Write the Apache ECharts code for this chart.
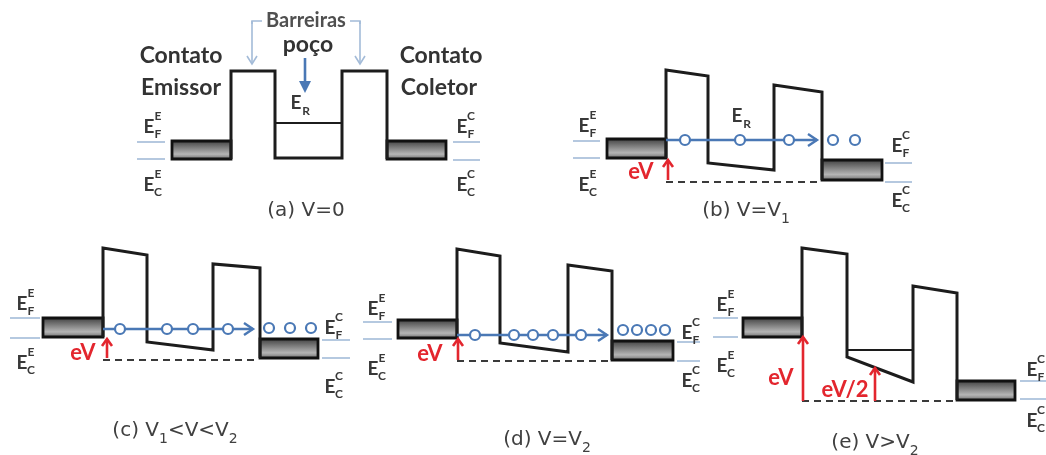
<!DOCTYPE html>
<html>
<head>
<meta charset="utf-8">
<title>Diodo de tunelamento ressonante – diagramas de banda</title>
<script src="https://cdn.jsdelivr.net/npm/echarts@6/dist/echarts.min.js"></script>
<style>
  html, body { margin: 0; padding: 0; background: #ffffff; }
  #chart { width: 1046px; height: 455px; }
</style>
</head>
<body>
<div id="chart"></div>
<script>
// ---- Conduction-band profiles, one polyline per bias condition (x, energy) ----
const bandA = [[231,159],[231,71],[275,71],[275,158],[342,158],[342,71],[387,71],[387,159]];
const bandB = [[666,158],[666,70],[708,76],[708,163],[774,170],[774,85],[822,92],[822,180]];
const bandC = [[103,337],[103,248],[147,255],[147,342],[213,350],[213,264],[260,268],[260,358]];
const bandD = [[457,338],[457,249],[500,256],[500,343],[568,352],[568,265],[612,271],[612,360]];
const bandE = [[802,337],[802,248],[847,254],[847,357],[913,382],[913,286],[957,293],[957,400]];

// Resonant level E_R drawn inside the well
const levelA = [[275,123],[342,123]];
const levelE = [[847,350],[913,350]];

// Emitter / collector contacts: [x0, top, x1, bottom]
const contacts = [
  [172,141,231,159], [387,141,446,159],
  [607,139,666,158], [822,160,882,180],
  [43,318,103,337],  [260,339,318,358],
  [398,320,457,338], [612,341,673,360],
  [743,318,802,337], [957,381,1015,400]
];

// Fermi level (E_F) and band edge (E_C) markers beside each contact
const refLevels = [
  [[137,142],[165,142]], [[137,159],[165,159]], [[453,142],[480,142]], [[453,160],[480,160]],
  [[573,141],[600,141]], [[573,158],[600,158]], [[885,163],[912,163]], [[885,182],[912,182]],
  [[10,318],[40,318]],   [[10,338],[40,338]],   [[322,340],[350,340]], [[322,358],[350,358]],
  [[363,322],[392,322]], [[363,339],[392,339]], [[677,342],[700,342]], [[677,361],[700,361]],
  [[713,318],[738,318]], [[713,337],[738,337]], [[1020,381],[1046,381]], [[1020,399],[1046,399]]
];

// Emitter band-edge reference carried over to the collector side
const dashedRefs = [
  [[666,182],[820,182]],
  [[103,360],[257,360]],
  [[457,361],[610,361]],
  [[802,401],[955,401]]
];

// Tunnelling current direction: [x0, y0, x1, y1]
const tunnelArrows = [[666,140,817,140],[103,329,253,329],[457,335,607,335]];

// Electrons (open circles)
const electronsB = [[685,140],[740,140],[789,140],[833,140],[855,140]];
const electronsC = [[120,329],[167,329],[193,329],[228,329],[269,328],[290,328],[311,328]];
const electronsD = [[475,335],[514,335],[533,335],[553,335],[581,335],[623,330],[637,330],[651,330],[665,330]];

// Applied bias eV (and eV/2 in the well)
const biasArrows = [[668,180,668,160],[107,358,107,339],[458,360,458,339],[803,401,803,337],[875,401,875,368]];

// Brackets pointing at the two barriers, and the arrow pointing into the well
const bracketLines = [[[262,21],[252,21],[252,24]], [[350,21],[360,21],[360,24]]];
const bracketArrows = [[252,21,252,64],[360,21,360,64]];
const wellArrow = [[305,58,305,93]];

// ---- Text ----
const labels = [
  { s: 'Contato',   x: 181, y: 56,  k: 'head' },
  { s: 'Emissor',   x: 181, y: 88,  k: 'head' },
  { s: 'Contato',   x: 441, y: 56,  k: 'head' },
  { s: 'Coletor',   x: 439, y: 88,  k: 'head' },
  { s: 'Barreiras', x: 306, y: 21,  k: 'barr' },
  { s: 'poço',      x: 308, y: 45,  k: 'head' },
  { s: 'E', x: 296, y: 103, k: 'E' }, { s: 'R', x: 306, y: 111, k: 'Es' },
  { s: 'E', x: 737, y: 116, k: 'E' }, { s: 'R', x: 747, y: 124, k: 'Es' },
  { s: 'eV',   x: 641, y: 172, k: 'red' },
  { s: 'eV',   x: 83,  y: 353, k: 'red' },
  { s: 'eV',   x: 430, y: 354, k: 'red' },
  { s: 'eV',   x: 781, y: 378, k: 'red' },
  { s: 'eV/2', x: 845, y: 390, k: 'red' },
  { s: '(a) V=0',               x: 306, y: 211, k: 'cap' },
  { s: '(b) V=V{s|1}',          x: 746, y: 211, k: 'cap' },
  { s: '(c) V{s|1}<V<V{s|2}',   x: 175, y: 431, k: 'cap' },
  { s: '(d) V=V{s|2}',          x: 547, y: 440, k: 'cap' },
  { s: '(e) V>V{s|2}',          x: 875, y: 443, k: 'cap' }
];

// E_F / E_C symbols: [x, y of the "E", superscript, subscript]
const energySymbols = [
  [149,127,'E','F'], [149,185,'E','C'], [462,127,'C','F'], [462,185,'C','C'],
  [584,126,'E','F'], [584,185,'E','C'], [897,146,'C','F'], [897,201,'C','C'],
  [22,304,'E','F'],  [22,363,'E','C'],  [330,328,'C','F'], [330,387,'C','C'],
  [373,309,'E','F'], [373,369,'E','C'], [687,333,'C','F'], [687,381,'C','C'],
  [722,305,'E','F'], [722,366,'E','C'], [1032,370,'C','F'], [1032,421,'C','C']
];
energySymbols.forEach(([x, y, sup, sub]) => {
  labels.push({ s: 'E', x: x, y: y, k: 'E' });
  labels.push({ s: sup, x: x + 9, y: y - 11, k: 'Es' });
  labels.push({ s: sub, x: x + 9, y: y + 7, k: 'Es' });
});

const fonts = {
  head: { family: 'Lato', size: 23, weight: 'bold', color: '#333333' },
  barr: { family: 'Lato', size: 20, weight: 'bold', color: '#505050' },
  E:    { family: 'Lato', size: 19, weight: 'bold', color: '#383838' },
  Es:   { family: 'Lato', size: 12, weight: 'bold', color: '#383838' },
  red:  { family: 'Lato', size: 22, weight: 'bold', color: '#e3262e' },
  cap:  { family: 'DejaVu Sans', size: 20, weight: 'normal', color: '#404040' }
};

// ---- Colours ----
const BAND = '#1c1c1c';
const BLUE = '#4a78b5';
const PALE = '#a3bbd8';
const RED = '#e3262e';

const chart = echarts.init(document.getElementById('chart'), null, { renderer: 'canvas' });

function arrowSeries(data, color, width, headLen, headHalf, filled, z) {
  return {
    type: 'custom',
    coordinateSystem: 'cartesian2d',
    silent: true,
    z: z,
    data: data,
    encode: { x: [0, 2], y: [1, 3] },
    renderItem: function (params, api) {
      const a = api.coord([api.value(0), api.value(1)]);
      const b = api.coord([api.value(2), api.value(3)]);
      const dx = b[0] - a[0], dy = b[1] - a[1];
      const len = Math.hypot(dx, dy) || 1;
      const ux = dx / len, uy = dy / len;
      const bx = b[0] - ux * headLen, by = b[1] - uy * headLen;
      const left = [bx - uy * headHalf, by + ux * headHalf];
      const right = [bx + uy * headHalf, by - ux * headHalf];
      const end = filled ? [bx, by] : b;
      const children = [{
        type: 'line',
        shape: { x1: a[0], y1: a[1], x2: end[0], y2: end[1] },
        style: { stroke: color, lineWidth: width }
      }];
      if (filled) {
        children.push({ type: 'polygon', shape: { points: [left, b, right] }, style: { fill: color } });
      } else {
        children.push({
          type: 'polyline',
          shape: { points: [left, b, right] },
          style: { stroke: color, lineWidth: width, fill: null, lineJoin: 'miter' }
        });
      }
      return { type: 'group', children: children };
    }
  };
}

function polylineSeries(lines, color, width, dashed, z) {
  return {
    type: 'lines',
    coordinateSystem: 'cartesian2d',
    polyline: true,
    silent: true,
    z: z,
    lineStyle: { color: color, width: width, opacity: 1, type: dashed ? [7, 5] : 'solid', join: 'miter' },
    data: lines.map(c => ({ coords: c }))
  };
}

const contactFill = new echarts.graphic.LinearGradient(0, 0, 0, 1, [
  { offset: 0, color: '#383838' },
  { offset: 0.7, color: '#b5b5b5' },
  { offset: 1, color: '#5e5e5e' }
]);

const option = {
  animation: false,
  backgroundColor: '#ffffff',
  grid: { left: 0, right: 0, top: 0, bottom: 0 },
  xAxis: { type: 'value', min: 0, max: 1046, show: false },
  yAxis: { type: 'value', min: 0, max: 455, inverse: true, show: false },
  series: [
    polylineSeries(refLevels, PALE, 1.6, false, 1),
    polylineSeries(bracketLines, PALE, 1.6, false, 1),
    arrowSeries(bracketArrows, PALE, 1.6, 8, 5, false, 1),
    polylineSeries(dashedRefs, '#3a3a3a', 2, true, 2),
    {
      type: 'custom',
      coordinateSystem: 'cartesian2d',
      silent: true,
      z: 3,
      data: contacts,
      encode: { x: [0, 2], y: [1, 3] },
      renderItem: function (params, api) {
        const p0 = api.coord([api.value(0), api.value(1)]);
        const p1 = api.coord([api.value(2), api.value(3)]);
        return {
          type: 'rect',
          shape: { x: p0[0], y: p0[1], width: p1[0] - p0[0], height: p1[1] - p0[1] },
          style: { fill: contactFill, stroke: '#111111', lineWidth: 2.8 }
        };
      }
    },
    polylineSeries([bandA, bandB, bandC, bandD, bandE], BAND, 3, false, 4),
    polylineSeries([levelA, levelE], BAND, 2, false, 4),
    arrowSeries(tunnelArrows, BLUE, 2.4, 9, 6, false, 5),
    arrowSeries(wellArrow, BLUE, 2.6, 12, 6, true, 5),
    arrowSeries(biasArrows, RED, 2.6, 7, 5, false, 6),
    {
      type: 'scatter',
      silent: true,
      z: 6,
      symbol: 'circle',
      symbolSize: 10,
      itemStyle: { color: '#ffffff', borderColor: BLUE, borderWidth: 2.2, opacity: 1 },
      data: electronsB.concat(electronsC, electronsD)
    },
    {
      type: 'custom',
      coordinateSystem: 'cartesian2d',
      silent: true,
      z: 7,
      data: labels.map(t => [t.x, t.y]),
      renderItem: function (params, api) {
        const t = labels[params.dataIndex];
        const f = fonts[t.k];
        const p = api.coord([api.value(0), api.value(1)]);
        return {
          type: 'text',
          x: p[0],
          y: p[1],
          style: {
            text: t.s,
            fontFamily: f.family,
            fontSize: f.size,
            fontWeight: f.weight,
            fill: f.color,
            align: 'center',
            verticalAlign: 'middle',
            rich: {
              s: {
                fontFamily: f.family,
                fontSize: 14,
                fill: f.color,
                color: f.color,
                verticalAlign: 'bottom',
                lineHeight: 31
              }
            }
          }
        };
      }
    }
  ]
};

chart.setOption(option);
</script>
</body>
</html>
